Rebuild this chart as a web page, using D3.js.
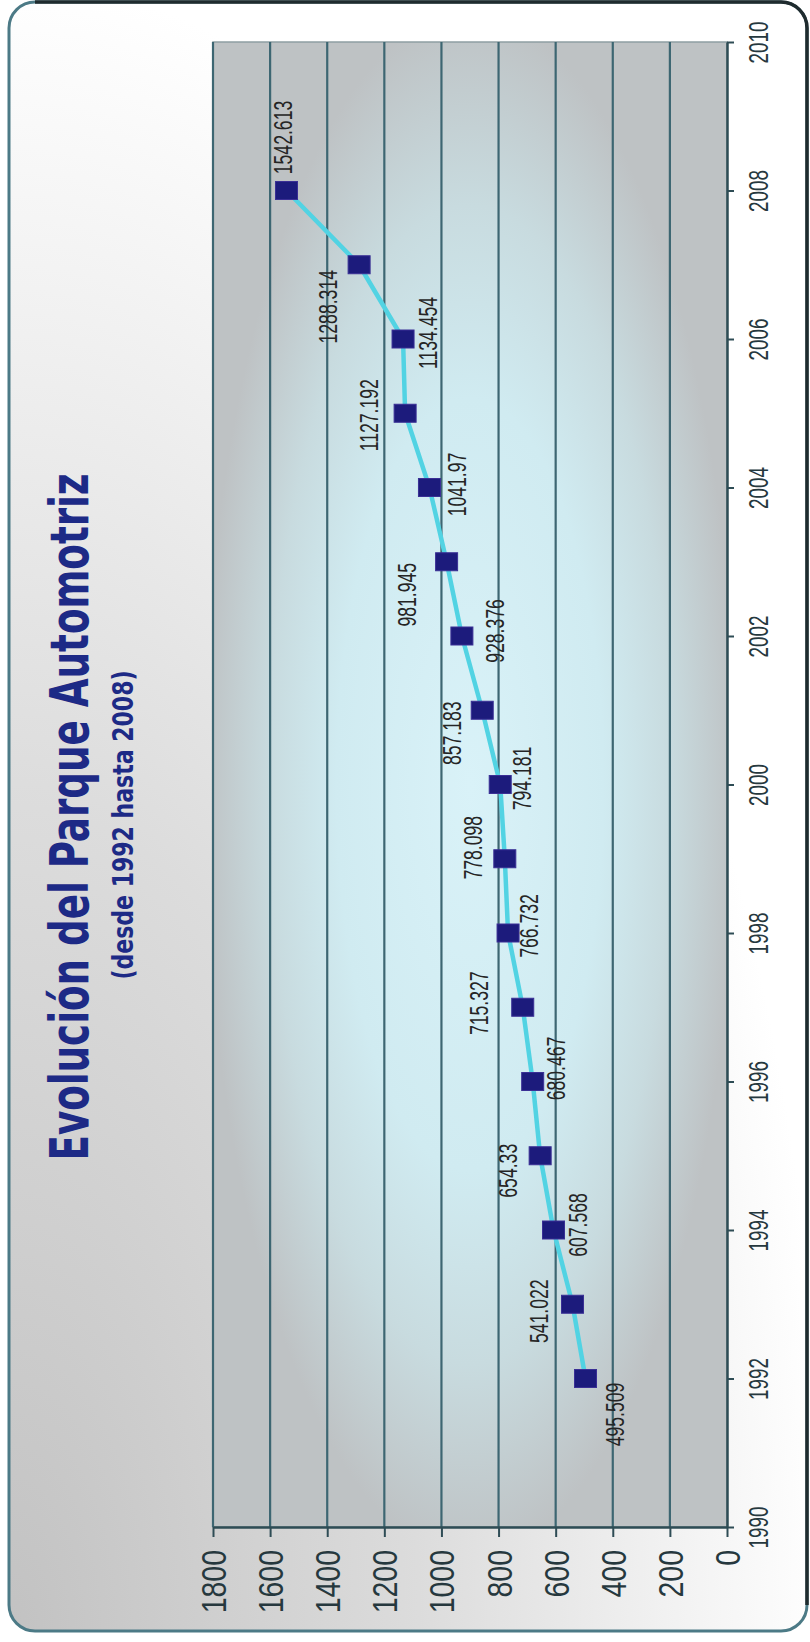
<!DOCTYPE html>
<html><head><meta charset="utf-8">
<script src="https://cdn.jsdelivr.net/npm/d3@7"></script>
<style>html,body{margin:0;padding:0;background:#fff;} svg{display:block}</style>
</head><body><svg id="c" width="810" height="1642"></svg>
<script>
// ---- data ----
const years = [1992,1993,1994,1995,1996,1997,1998,1999,2000,2001,2002,2003,2004,2005,2006,2007,2008];
const values = [495.509,541.022,607.568,654.33,680.467,715.327,766.732,778.098,794.181,857.183,928.376,981.945,1041.97,1127.192,1134.454,1288.314,1542.613];
const valueTicks = [0,200,400,600,800,1000,1200,1400,1600,1800];
const yearTicks = [1990,1992,1994,1996,1998,2000,2002,2004,2006,2008,2010];
const title = "Evolución del Parque Automotriz";
const subtitle = "(desde 1992 hasta 2008)";
// label nudges (screen px, relative to the marker) as placed in the original
const labelNudge = [[29,36],[-34,7],[24,-5],[-33,15],[23,-13],[-44,-4],[21,-7],[-32,-11],[21,-6],[-31,23],[33,-5],[-40,33],[27,-3],[-37,2],[25,-6],[-32,42],[-4,-53]];

// ---- layout ----
const plot = {left:213, right:727, top:42, bottom:1527};
const STRETCH = 1.22;
const axisColor = "#2e4c55", gridColor = "#3d6672", textColor = "#26383e";
const svg = d3.select("#c");
const defs = svg.append("defs");

const bg = defs.append("radialGradient").attr("id","bgGrad").attr("gradientUnits","userSpaceOnUse")
  .attr("cx",0).attr("cy",0).attr("r",1).attr("gradientTransform","translate(9,1631) scale(820,1650)");
[[0,"#c2c2c2"],[0.5,"#dcdcdc"],[1,"#ffffff"]].forEach(s=>bg.append("stop").attr("offset",s[0]).attr("stop-color",s[1]));

const pg = defs.append("radialGradient").attr("id","plotGrad").attr("cx",0.5).attr("cy",0.5).attr("r",0.52);
[[0,"#d9f2f8"],[0.5,"#d0ebf1"],[0.75,"#c8dbdf"],[1,"#bec2c4"]].forEach(s=>pg.append("stop").attr("offset",s[0]).attr("stop-color",s[1]));

// frame
svg.append("rect").attr("x",9).attr("y",2).attr("width",798).attr("height",1629).attr("rx",26).attr("ry",26)
  .attr("fill","url(#bgGrad)").attr("stroke","#4c7a86").attr("stroke-width",3);
svg.append("path").attr("d","M35,2 H781 A26,26 0 0 1 807,28 V1605").attr("fill","none").attr("stroke","#1f2b2e").attr("stroke-width",3.5);

// scales
const v = d3.scaleLinear().domain([0,1800]).range([plot.right, plot.left]);
const t = d3.scaleLinear().domain([1990,2010]).range([plot.bottom, plot.top]);

// plot area
svg.append("rect").attr("x",plot.left).attr("y",plot.top).attr("width",plot.right-plot.left).attr("height",plot.bottom-plot.top)
  .attr("fill","url(#plotGrad)").attr("stroke","#8e9ea2").attr("stroke-width",1.5);

// gridlines
svg.append("g").selectAll("line").data(valueTicks.filter(d=>d>0)).join("line")
  .attr("x1",d=>v(d)).attr("x2",d=>v(d)).attr("y1",plot.top).attr("y2",plot.bottom)
  .attr("stroke",gridColor).attr("stroke-width",2.2);

// value axis (bottom of the picture)
const fsV = 28.5;
const gV = svg.append("g").attr("transform",`translate(0,${plot.bottom})`)
  .call(d3.axisBottom(v).tickValues(valueTicks).tickFormat(d3.format("d")).tickSize(10).tickSizeOuter(0));
gV.attr("font-family","'Liberation Sans', Arial, sans-serif").attr("font-size",fsV);
gV.select(".domain").attr("stroke",axisColor).attr("stroke-width",2.5);
gV.selectAll(".tick line").attr("stroke",axisColor).attr("stroke-width",2);
gV.selectAll(".tick text").attr("dy",null).attr("x",0).attr("y",0.358*fsV)
  .attr("text-anchor","end").attr("fill",textColor)
  .attr("transform",`translate(0,23) rotate(-90) scale(1,${STRETCH})`);

// year axis (right of the picture)
const fsY = 23;
const gY = svg.append("g").attr("transform",`translate(${plot.right},0)`)
  .call(d3.axisRight(t).tickValues(yearTicks).tickFormat(d3.format("d")).tickSize(7).tickSizeOuter(0));
gY.attr("font-family","'Liberation Sans', Arial, sans-serif").attr("font-size",fsY);
gY.select(".domain").attr("stroke",axisColor).attr("stroke-width",2.5);
gY.selectAll(".tick line").attr("stroke",axisColor).attr("stroke-width",2);
gY.selectAll(".tick text").attr("dy",null).attr("x",0).attr("y",0.358*fsY)
  .attr("text-anchor","middle").attr("fill",textColor)
  .attr("transform",`translate(31,0) rotate(-90) scale(0.82,${STRETCH})`);

// series
const pts = years.map((y,i)=>({year:y, value:values[i], nudge:labelNudge[i]}));
const line = d3.line().x(d=>v(d.value)).y(d=>t(d.year));
svg.append("path").datum(pts).attr("d",line).attr("fill","none")
  .attr("stroke","#52d3e3").attr("stroke-width",4.5).attr("stroke-linejoin","round");
svg.append("g").selectAll("rect").data(pts).join("rect")
  .attr("x",d=>v(d.value)-11).attr("y",d=>t(d.year)-9).attr("width",22).attr("height",18)
  .attr("fill","#1c1b7c").attr("stroke","#3a2f95").attr("stroke-width",1);

// data labels
const fsL = 21.5;
svg.append("g").attr("font-family","'Liberation Sans', Arial, sans-serif").attr("font-size",fsL).attr("fill","#252525")
  .selectAll("text").data(pts).join("text")
  .attr("text-anchor","middle").attr("y",0.358*fsL)
  .attr("transform",d=>`translate(${v(d.value)+d.nudge[0]},${t(d.year)+d.nudge[1]}) rotate(-90) scale(0.82,${STRETCH})`)
  .text(d=>String(d.value));

// titles
svg.append("text").attr("transform",`translate(88,817) rotate(-90) scale(1,${STRETCH})`)
  .attr("text-anchor","middle").attr("font-family","'Liberation Sans Narrow','DejaVu Sans Condensed','Liberation Sans',sans-serif")
  .attr("font-weight","bold").attr("font-size",43).attr("fill","#1d2a86")
  .attr("textLength",687).attr("lengthAdjust","spacingAndGlyphs").text(title);
svg.append("text").attr("transform",`translate(133,825) rotate(-90) scale(1,${STRETCH})`)
  .attr("text-anchor","middle").attr("font-family","'Liberation Sans Narrow','DejaVu Sans Condensed','Liberation Sans',sans-serif")
  .attr("font-weight","bold").attr("font-size",23).attr("fill","#1d2a86")
  .attr("textLength",309).attr("lengthAdjust","spacingAndGlyphs").text(subtitle);
</script></body></html>
